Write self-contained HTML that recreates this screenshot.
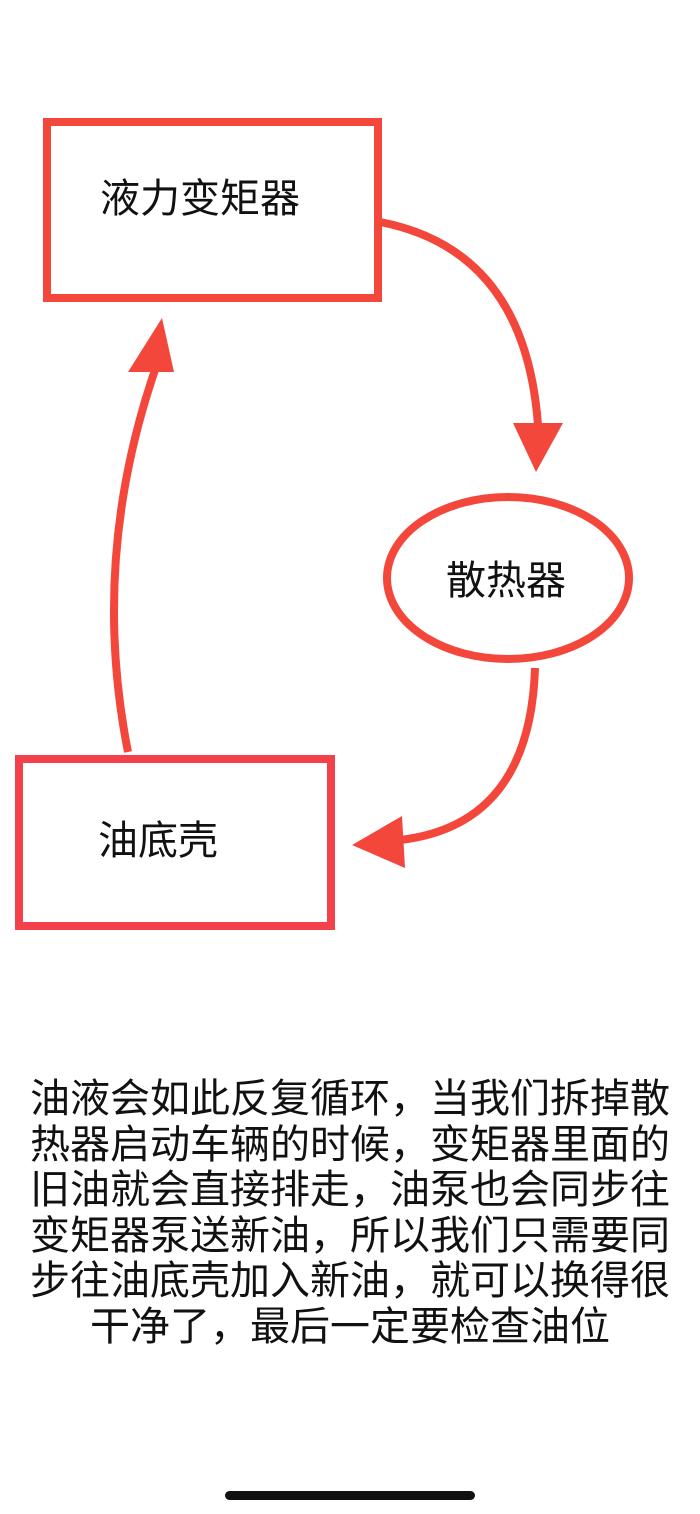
<!DOCTYPE html>
<html><head><meta charset="utf-8"><style>
html,body{margin:0;padding:0;background:#fff;}
body{width:700px;height:1514px;position:relative;overflow:hidden;font-family:"Liberation Sans","Noto Sans CJK SC",sans-serif;}
.t{position:absolute;color:#111;font-size:40px;white-space:nowrap;}
.p{position:absolute;left:0;width:700px;top:1077px;text-align:center;font-size:40px;line-height:45.6px;color:#111;}
.bar{position:absolute;left:225px;top:1491px;width:250px;height:9px;border-radius:5px;background:#111;}
</style></head><body>
<svg width="700" height="1514" style="position:absolute;left:0;top:0">
<g fill="none" stroke="#f4473c" stroke-width="8">
<rect x="47" y="122" width="331" height="176"/>
<rect x="19" y="759" width="312" height="167" stroke="#f2414b"/>
<ellipse cx="508" cy="578" rx="121" ry="81"/>
<path d="M380 222 Q525 250 538 425"/>
<path d="M535 668 Q530 825 400 840"/>
<path d="M128 752 Q90 560 155 370"/>
</g>
<g fill="#f4473c">
<polygon points="513,423 563,423 536,472"/>
<polygon points="402,816 405,868 352,845"/>
<polygon points="128,372 174,372 162,318"/>
</g>
</svg>
<div class="t" style="left:100px;top:166px">液力变矩器</div>
<div class="t" style="left:446px;top:548px">散热器</div>
<div class="t" style="left:98px;top:808px">油底壳</div>
<div class="p">油液会如此反复循环，当我们拆掉散<br>热器启动车辆的时候，变矩器里面的<br>旧油就会直接排走，油泵也会同步往<br>变矩器泵送新油，所以我们只需要同<br>步往油底壳加入新油，就可以换得很<br>干净了，最后一定要检查油位</div>
<div class="bar"></div>
</body></html>
